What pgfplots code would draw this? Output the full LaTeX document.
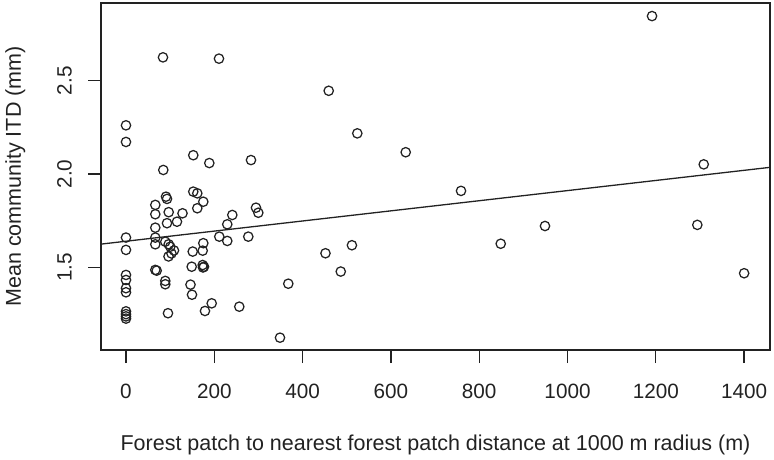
\documentclass[border=0pt]{standalone}
\usepackage{pgfplots}
\pgfplotsset{compat=1.18}
\usepackage{fontspec}
\setmainfont{Liberation Sans}
\definecolor{ink}{HTML}{222222}
\begin{document}
\begin{tikzpicture}
\useasboundingbox (0,0) rectangle (774pt,459pt);
\begin{axis}[
  at={(101pt,109pt)}, anchor=south west,
  scale only axis, width=669pt, height=347pt,
  xmin=-56.6, xmax=1458.6, ymin=1.058, ymax=2.916,
  axis line style={draw=ink, line width=1.4pt},
  xtick={0,200,400,600,800,1000,1200,1400},
  xticklabels={0,200,400,600,800,1000,1200,1400},
  ytick={1.5,2.0,2.5},
  yticklabels={1.5,2.0,2.5},
  xtick pos=bottom, ytick pos=left,
  tick align=outside, major tick length=13pt,
  tick style={draw=ink, line width=1.3pt},
  xticklabel style={font=\fontsize{20.7}{24}\selectfont, text=ink, anchor=base, inner sep=0pt, yshift=-35.3pt},
  yticklabel shift=16.3pt,
  yticklabel style={font=\fontsize{20.7}{24}\selectfont, text=ink, anchor=base, inner sep=0pt, rotate=90},
  xlabel={Forest patch to nearest forest patch distance at 1000 m radius (m)},
  ylabel={Mean community ITD (mm)},
  xlabel style={font=\fontsize{21.5}{25}\selectfont, text=ink, at={(axis description cs:0.5,-0.2882)}, anchor=base, inner sep=0pt},
  ylabel style={font=\fontsize{21.5}{25}\selectfont, text=ink, at={(axis description cs:-0.1196,0.5)}, anchor=base, rotate=0, inner sep=0pt},
  clip=false,
]
\addplot[only marks, mark=o, mark size=4.7pt, mark options={draw=ink, line width=1.25pt}] coordinates {
(0,2.261) (0,2.172) (0,1.660) (0,1.594) (0,1.460) (0,1.433) (0,1.389) (0,1.367)
(0,1.265) (0,1.250) (0,1.238) (0,1.226)
(83.8,2.625) (210.6,2.618) (152.4,2.101) (188.7,2.059) (283.1,2.075) (84.5,2.022)
(459.1,2.446) (523.9,2.218) (633.5,2.117) (758.8,1.910) (949,1.722) (848.7,1.627)
(511.7,1.619) (451.8,1.576) (486.4,1.478) (367.6,1.413) (348.8,1.124)
(1191.4,2.846) (1308.5,2.052) (1294,1.728) (1400,1.469)
(90.6,1.879) (92.9,1.867) (152.4,1.906) (161.5,1.897) (175.1,1.852) (66.4,1.835)
(161.5,1.817) (66.4,1.785) (96.7,1.796) (128,1.790) (240.8,1.781) (294.4,1.820)
(299.7,1.793) (115.5,1.745) (92.9,1.737) (229.4,1.731) (66.4,1.713) (66.4,1.660)
(211.3,1.665) (277,1.665) (229.4,1.642) (66.4,1.624) (89,1.638) (96.7,1.624)
(100.3,1.611) (175.1,1.630) (108.7,1.591) (103,1.575) (96.3,1.559) (151.1,1.585)
(173.7,1.590) (148.8,1.504) (173.7,1.513) (176.7,1.504) (174.4,1.500) (66.4,1.487)
(69.5,1.483) (89,1.428) (89,1.410) (146.1,1.408) (149.5,1.354) (194.1,1.308)
(178.9,1.267) (95.1,1.255) (256.6,1.290)
};
\addplot[ink, line width=1.3pt] coordinates {(-56.6,1.625) (1458.6,2.036)};
\end{axis}
\end{tikzpicture}
\end{document}
